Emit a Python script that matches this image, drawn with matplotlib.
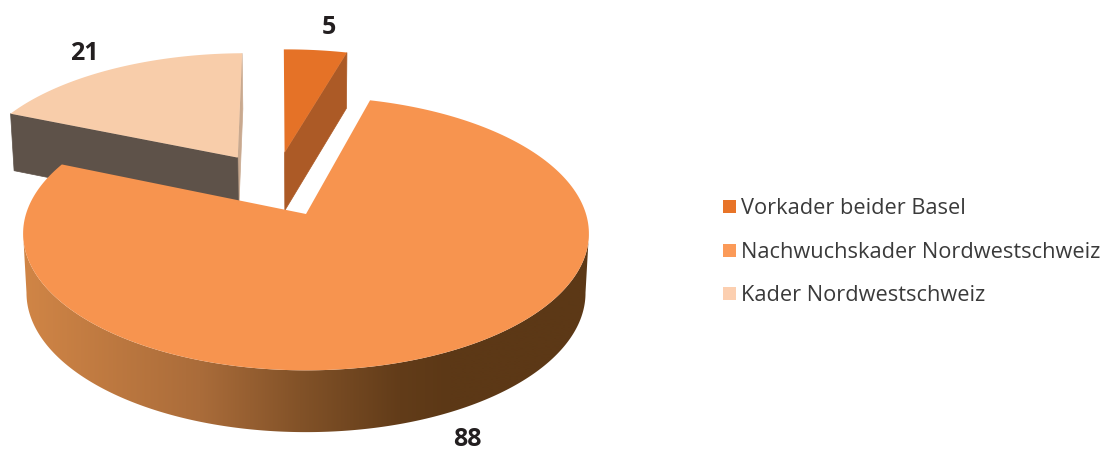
import matplotlib
matplotlib.use('Agg')
import matplotlib.pyplot as plt
import numpy as np
from matplotlib.colors import to_rgb
from matplotlib.patches import Polygon

plt.rcParams['font.family'] = ['Open Sans', 'DejaVu Sans']

categories = ['Vorkader beider Basel', 'Nachwuchskader Nordwestschweiz', 'Kader Nordwestschweiz']
values = [5, 88, 21]
top_colors = ['#E57227', '#F7944F', '#F8CDAA']
side_colors = ['#AC5A26', None, '#5E5249']

# projection of the pie disc: a bit of perspective, back smaller than front
ox, oy = 306.0, 215.0
bx, by = 280.0, 134.0
k = 1 / 7
depth = 59.0
explode = 0.259
start_angle = np.radians(-0.7)
# the two small slices lean a little to the left
slice_shear = [0.004, 0.0, 0.008]


def project(u, v, z=0.0, shear=0.0):
    w = 1 + k * v
    x = bx * u / w * (1 - 0.012 * z)
    y = -by * v / w
    return ox + x + shear * y, oy + y + z * depth / w ** 0.3


total = sum(values)
edges = start_angle + np.cumsum([0] + values) / total * 2 * np.pi
mids = (edges[:-1] + edges[1:]) / 2
big = 1
off_u = explode * (np.sin(mids) - np.sin(mids[big]))
off_v = explode * (np.cos(mids) - np.cos(mids[big]))


def outline(i, z=0.0):
    t = np.linspace(edges[i], edges[i + 1], 240)
    u = np.r_[off_u[i], off_u[i] + np.sin(t)]
    v = np.r_[off_v[i], off_v[i] + np.cos(t)]
    return np.column_stack(project(u, v, z, slice_shear[i]))


def radial_side(ax, i, angle, color):
    u = np.array([off_u[i], off_u[i] + np.sin(angle)])
    v = np.array([off_v[i], off_v[i] + np.cos(angle)])
    x0, y0 = project(u, v, 0, slice_shear[i])
    x1, y1 = project(u, v, 1, slice_shear[i])
    ax.fill(np.r_[x0, x1[::-1]], np.r_[y0, y1[::-1]], color=color, lw=0.5, zorder=1)


fig = plt.figure(figsize=(11.12, 4.52), dpi=100)
ax = fig.add_axes([0, 0, 1, 1])

# back slices first, the big one goes over them
radial_side(ax, 2, edges[3], '#C9A98F')
radial_side(ax, 2, edges[2], side_colors[2])
ax.fill(*outline(2).T, color=top_colors[2], lw=0, zorder=2)

radial_side(ax, 0, edges[1], side_colors[0])
ax.fill(*outline(0).T, color=top_colors[0], lw=0, zorder=2)

# rim of the big slice with the left to right shading, between the widest points
t = np.linspace(np.pi / 2, 3 * np.pi / 2, 800)
xt, yt = project(np.sin(t), np.cos(t), 0)
xb, yb = project(np.sin(t), np.cos(t), 1)
a0, a1 = np.argmax(xt), np.argmin(xt)
b0, b1 = np.argmax(xb), np.argmin(xb)
rim_x = np.r_[xt[a0:a1 + 1], xb[b0:b1 + 1][::-1]]
rim_y = np.r_[yt[a0:a1 + 1], yb[b0:b1 + 1][::-1]]
stops = [25, 200, 300, 400, 450, 590]
stop_cols = np.array([to_rgb(c) for c in ['#D08546', '#AA6C3A', '#825228', '#623C19', '#5C3816', '#5C3816']])
gx = np.linspace(20, 595, 576)
grad = np.column_stack([np.interp(gx, stops, stop_cols[:, j]) for j in range(3)])[None, :, :]
im = ax.imshow(grad, extent=(20, 595, 440, 200), aspect='auto', zorder=3, interpolation='bilinear')
rim = Polygon(np.column_stack([rim_x, rim_y]), closed=True, transform=ax.transData)
im.set_clip_path(rim)
ax.fill(*outline(1).T, color=top_colors[1], lw=0, zorder=4)

ax.set_xlim(0, 1112)
ax.set_ylim(452, 0)
ax.axis('off')

label_pos = [(329, 28), (467, 440), (84, 53)]
for val, (lx, ly) in zip(values, label_pos):
    ax.text(lx, ly, str(val), ha='center', va='center', fontsize=18, fontweight='bold', color='#231F20', zorder=5)

# legend
legend_y = [207.5, 251, 294.5]
legend_colors = ['#E87428', '#FB9A58', '#FCCFB0']
for name, y, c in zip(categories, legend_y, legend_colors):
    ax.fill([723, 736, 736, 723], [y - 6.5, y - 6.5, y + 6.5, y + 6.5], color=c, lw=0, zorder=5)
    ax.text(741, y + 1, name, ha='left', va='center', fontsize=15.7, color='#3A3A3A', zorder=5)

fig.savefig('out.png', dpi=100)
